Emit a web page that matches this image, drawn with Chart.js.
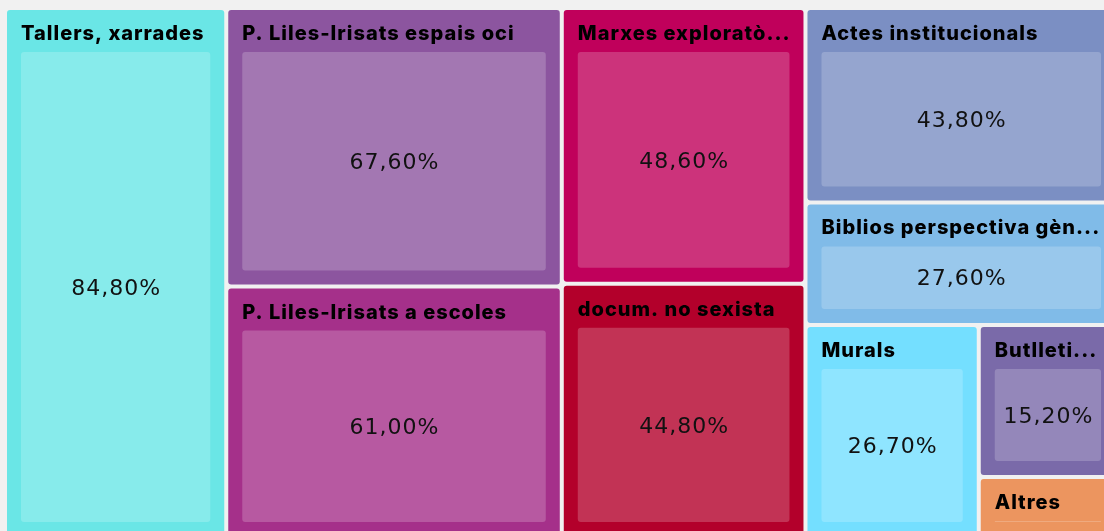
<!DOCTYPE html>
<html>
<head>
<meta charset="utf-8">
<script src="https://cdn.jsdelivr.net/npm/chart.js@4.4.1/dist/chart.umd.min.js"></script>
<style>
html, body { margin: 0; padding: 0; background: #f1f1f1; overflow: hidden; }
#wrap { width: 1104px; height: 531px; position: relative; }
</style>
</head>
<body>
<div id="wrap"><canvas id="tree"></canvas></div>
<script>
// data, biggest first (binary treemap keeps this order)
const categories = [
    'Tallers, xarrades',
    'P. Liles-Irisats espais oci',
    'P. Liles-Irisats a escoles',
    'Marxes exploratòries',
    'docum. no sexista',
    'Actes institucionals',
    'Biblios perspectiva gènere',
    'Murals',
    'Butlleti informatiu',
    'Altres'
];
const values = [84.8, 67.6, 61.0, 48.6, 44.8, 43.8, 27.6, 26.7, 15.2, 6.1];
const colours = [
    '#6ae6e6', '#8c559f', '#a5308a', '#c0005b', '#b3002b',
    '#7b8fc3', '#80bbe8', '#74dfff', '#7a6aa9', '#ec955f'
];

// area the treemap fills, in axis units (part of it runs past the frame)
const area = { x0: 5, y0: 8, x1: 1117, y1: 538 };

// same split rule as d3.treemapBinary
function binaryLayout(vals, x0, y0, x1, y1) {
    const out = new Array(vals.length);
    const sums = [0];
    vals.forEach((v, i) => sums.push(sums[i] + v));

    function partition(i, j, value, x0, y0, x1, y1) {
        if (i >= j - 1) {
            out[i] = { x0, y0, x1, y1 };
            return;
        }
        const offset = sums[i];
        const target = value / 2 + offset;
        let k = i + 1, hi = j - 1;
        while (k < hi) {
            const mid = (k + hi) >>> 1;
            if (sums[mid] < target) k = mid + 1; else hi = mid;
        }
        if ((target - sums[k - 1]) < (sums[k] - target) && i + 1 < k) --k;
        const left = sums[k] - offset, right = value - left;
        if ((x1 - x0) > (y1 - y0)) {
            const xk = (x0 * right + x1 * left) / value;
            partition(i, k, left, x0, y0, xk, y1);
            partition(k, j, right, xk, y0, x1, y1);
        } else {
            const yk = (y0 * right + y1 * left) / value;
            partition(i, k, left, x0, y0, x1, yk);
            partition(k, j, right, x0, yk, x1, y1);
        }
    }
    partition(0, vals.length, sums[vals.length], x0, y0, x1, y1);
    return out;
}

function fmt(v) {
    return v.toFixed(2).replace('.', ',') + '%';
}

function fitText(ctx, text, maxW) {
    if (ctx.measureText(text).width <= maxW) return text;
    let t = text;
    while (t.length > 1 && ctx.measureText(t.trim() + '...').width > maxW) {
        t = t.slice(0, -1);
    }
    return t.trim() + '...';
}

function roundRect(ctx, x, y, w, h, r) {
    ctx.beginPath();
    ctx.roundRect(x, y, w, h, r);
    ctx.fill();
}

const treemapPlugin = {
    id: 'treemapCells',
    afterDatasetsDraw(chart) {
        const ctx = chart.ctx;
        const xs = chart.scales.x;
        const ys = chart.scales.y;
        const rects = binaryLayout(values, area.x0, area.y0, area.x1, area.y1);

        ctx.save();
        rects.forEach((r, i) => {
            const left = xs.getPixelForValue(r.x0) + 2;
            const right = xs.getPixelForValue(r.x1) - 2;
            const top = ys.getPixelForValue(r.y0) + 2;
            const bottom = ys.getPixelForValue(r.y1) - 2;
            const w = right - left, h = bottom - top;

            // cell
            ctx.fillStyle = colours[i];
            roundRect(ctx, left, top, w, h, 3);

            // lighter inner box
            const ih = h - 42 - 14;
            const iw = w - 28;
            if (ih > 0 && iw > 0) {
                ctx.fillStyle = 'rgba(255,255,255,0.2)';
                roundRect(ctx, left + 14, top + 42, iw, ih, 3);
            }

            // label
            ctx.fillStyle = '#000';
            ctx.font = '800 20px Inter';
            ctx.letterSpacing = '1px';
            ctx.textAlign = 'left';
            ctx.textBaseline = 'middle';
            ctx.fillText(fitText(ctx, categories[i], w - 25), left + 14, top + 24);

            // value
            if (ih > 26) {
                ctx.font = '400 22px "DejaVu Sans"';
                ctx.letterSpacing = '1px';
                ctx.fillStyle = '#111';
                ctx.textAlign = 'center';
                ctx.fillText(fmt(values[i]), left + 14.5 + iw / 2, top + 44 + ih / 2);
            }
        });
        ctx.restore();
    }
};

new Chart(document.getElementById('tree'), {
    type: 'scatter',
    data: { datasets: [{ data: [], pointRadius: 0 }] },
    options: {
        responsive: true,
        maintainAspectRatio: false,
        animation: false,
        layout: { padding: 0 },
        plugins: {
            legend: { display: false },
            tooltip: { enabled: false }
        },
        scales: {
            x: { type: 'linear', min: 0, max: 1104, display: false },
            y: { type: 'linear', min: 0, max: 531, reverse: true, display: false }
        }
    },
    plugins: [treemapPlugin]
});
</script>
</body>
</html>
